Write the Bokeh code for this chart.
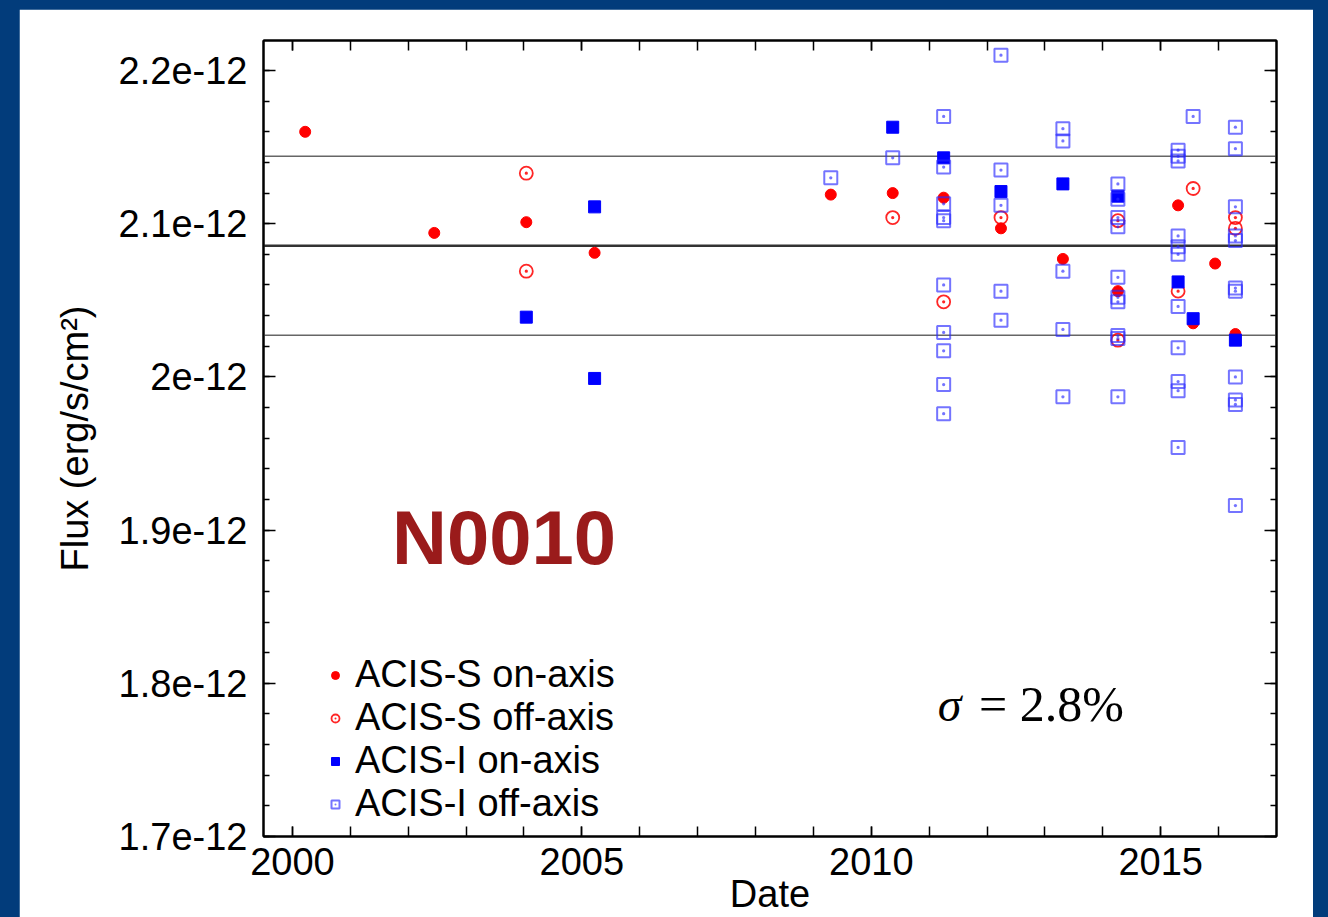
from bokeh.plotting import figure
from bokeh.models import (Range1d, FixedTicker, LinearAxis, CustomJSTickFormatter,
                          Span, Label, Legend, LegendItem, Spacer)
from bokeh.layouts import row, column
from bokeh.embed import file_html
from bokeh.resources import INLINE

# ---------------- data (flux in units of 1e-12 erg/s/cm^2) ----------------
s_on_date = [2000.22, 2002.45, 2004.04, 2005.22, 2009.30, 2010.37, 2011.25, 2012.24,
             2013.31, 2013.31, 2014.26, 2015.30, 2015.56, 2015.94, 2016.29]
s_on_flux = [2.160, 2.094, 2.101, 2.081, 2.119, 2.120, 2.117, 2.097,
             2.126, 2.077, 2.056, 2.112, 2.035, 2.074, 2.028]

s_off_date = [2004.04, 2004.04, 2010.37, 2011.25, 2012.24, 2014.26, 2014.26,
              2015.30, 2015.56, 2016.29, 2016.29]
s_off_flux = [2.133, 2.069, 2.104, 2.049, 2.104, 2.102, 2.024,
              2.056, 2.123, 2.104, 2.097]

i_on_date = [2004.04, 2005.22, 2005.22, 2010.37, 2011.25, 2012.24, 2013.31,
             2014.26, 2015.30, 2015.56, 2016.29]
i_on_flux = [2.039, 2.111, 1.999, 2.163, 2.143, 2.121, 2.126,
             2.118, 2.062, 2.038, 2.024]

i_off_date = ([2009.30] + [2010.37]
              + [2011.25] * 10
              + [2012.24] * 5
              + [2013.31] * 5
              + [2014.26] * 10
              + [2015.30] * 11
              + [2015.56]
              + [2016.29] * 11)
i_off_flux = ([2.130] + [2.143]
              + [2.170, 2.137, 2.113, 2.104, 2.102, 2.060, 2.029, 2.017, 1.995, 1.976]
              + [2.210, 2.135, 2.112, 2.056, 2.037]
              + [2.162, 2.154, 2.069, 2.031, 1.987]
              + [2.126, 2.116, 2.104, 2.098, 2.065, 2.052, 2.049, 2.027, 2.025, 1.987]
              + [2.148, 2.144, 2.141, 2.092, 2.085, 2.080, 2.046, 2.019, 1.997, 1.991, 1.954]
              + [2.170]
              + [2.163, 2.149, 2.111, 2.092, 2.089, 2.058, 2.056, 2.000, 1.985, 1.982, 1.916])

mean_flux = 2.0856
sigma_frac = 0.028

x_major = [2000, 2005, 2010, 2015]
x_minor = list(range(2000, 2017))
y_major = [1.7, 1.8, 1.9, 2.0, 2.1, 2.2]
y_minor = [round(1.7 + 0.02 * i, 2) for i in range(27)]

legend_labels = ["ACIS-S on-axis", "ACIS-S off-axis", "ACIS-I on-axis", "ACIS-I off-axis"]

# ---------------- figure ----------------
FONT = "Liberation Sans"
p = figure(width=1294, height=908, output_backend="svg", toolbar_location=None,
           x_range=Range1d(1999.5, 2017.0), y_range=Range1d(1.7, 2.2196),
           min_border_left=244, min_border_right=37, min_border_top=31, min_border_bottom=81,
           background_fill_color="white", border_fill_color="white",
           x_axis_label="Date", y_axis_label="Flux (erg/s/cm\u00b2)")
p.grid.visible = False
p.outline_line_color = "black"
p.outline_line_width = 2

xt = FixedTicker(ticks=x_major, minor_ticks=x_minor)
yt = FixedTicker(ticks=y_major, minor_ticks=y_minor)

def style_axis(ax, is_x, show_labels):
    ax.axis_line_color = "black"
    ax.axis_line_width = 2
    ax.major_tick_out = 0
    ax.minor_tick_out = 0
    ax.major_tick_in = 10 if is_x else 12
    ax.minor_tick_in = 10 if is_x else 6
    ax.major_tick_line_color = "black"
    ax.minor_tick_line_color = "black"
    ax.major_tick_line_width = 1.5
    ax.minor_tick_line_width = 1.5
    ax.major_label_text_font = FONT
    ax.major_label_text_color = "black"
    if show_labels:
        ax.major_label_text_font_size = "38px"
    else:
        ax.formatter = CustomJSTickFormatter(code="return '';")
        ax.major_label_text_font_size = "0px"
        ax.major_label_standoff = 0

xa = p.xaxis[0]
xa.ticker = xt
style_axis(xa, True, True)
xa.major_label_standoff = 11
xa.axis_label_text_font = FONT
xa.axis_label_text_font_size = "38px"
xa.axis_label_text_font_style = "normal"
xa.axis_label_text_color = "black"
xa.axis_label_standoff = -5

ya = p.yaxis[0]
ya.ticker = yt
style_axis(ya, False, True)
ya.major_label_standoff = 16
ya.formatter = CustomJSTickFormatter(code="""
    var s = tick.toFixed(1);
    if (s.endsWith('.0')) { s = s.slice(0, -2); }
    return s + 'e-12';
""")
ya.axis_label_text_font = FONT
ya.axis_label_text_font_size = "38px"
ya.axis_label_text_font_style = "normal"
ya.axis_label_text_color = "black"
ya.axis_label_standoff = 20

top_ax = LinearAxis(ticker=xt)
style_axis(top_ax, True, False)
p.add_layout(top_ax, "above")
right_ax = LinearAxis(ticker=yt)
style_axis(right_ax, False, False)
p.add_layout(right_ax, "right")

# horizontal reference lines: mean and mean +/- sigma
p.add_layout(Span(location=mean_flux, dimension="width", line_color="#333333",
                  line_width=2.5, level="underlay"))
p.add_layout(Span(location=mean_flux * (1 + sigma_frac), dimension="width",
                  line_color="#666666", line_width=1.5, level="underlay"))
p.add_layout(Span(location=mean_flux * (1 - sigma_frac), dimension="width",
                  line_color="#666666", line_width=1.5, level="underlay"))

# data
r1 = p.scatter(s_on_date, s_on_flux, marker="circle", size=11,
               fill_color="#ff0000", line_color="#ff0000")
r2 = p.scatter(s_off_date, s_off_flux, marker="circle_dot", size=13,
               fill_color=None, line_color="#ff0000", line_alpha=0.85, line_width=1.8)
r3 = p.scatter(i_on_date, i_on_flux, marker="square", size=12,
               fill_color="#0000ff", line_color="#0000ff")
r4 = p.scatter(i_off_date, i_off_flux, marker="square_dot", size=13,
               fill_color=None, line_color="#2a2aff", line_alpha=0.65, line_width=2)

legend = Legend(items=[LegendItem(label=legend_labels[0], renderers=[r1]),
                       LegendItem(label=legend_labels[1], renderers=[r2]),
                       LegendItem(label=legend_labels[2], renderers=[r3]),
                       LegendItem(label=legend_labels[3], renderers=[r4])],
                location=(62, 11), orientation="vertical",
                background_fill_alpha=0, border_line_alpha=0,
                label_text_font=FONT, label_text_font_size="38px",
                label_text_color="black",
                glyph_width=20, glyph_height=38, label_height=38,
                spacing=0, padding=0, margin=0, label_standoff=10)
p.add_layout(legend)

p.add_layout(Label(x=2001.72, y=1.8955, text="N0010", text_font=FONT,
                   text_font_size="76px", text_font_style="bold",
                   text_color="#9a1b1b", text_baseline="alphabetic"))
p.add_layout(Label(x=2011.15, y=1.7863, text="\u03c3", text_font="Liberation Serif",
                   text_font_size="48px", text_font_style="italic",
                   text_color="black", text_baseline="alphabetic"))
p.add_layout(Label(x=2011.86, y=1.7863, text="= 2.8%", text_font="Liberation Serif",
                   text_font_size="50px", text_color="black", text_baseline="alphabetic"))

layout = row(Spacer(width=19, height=917),
             column(Spacer(width=1294, height=9), p),
             Spacer(width=15, height=917),
             styles={"background-color": "#023c7b"})

open("out.html", "w").write(file_html(layout, INLINE))
